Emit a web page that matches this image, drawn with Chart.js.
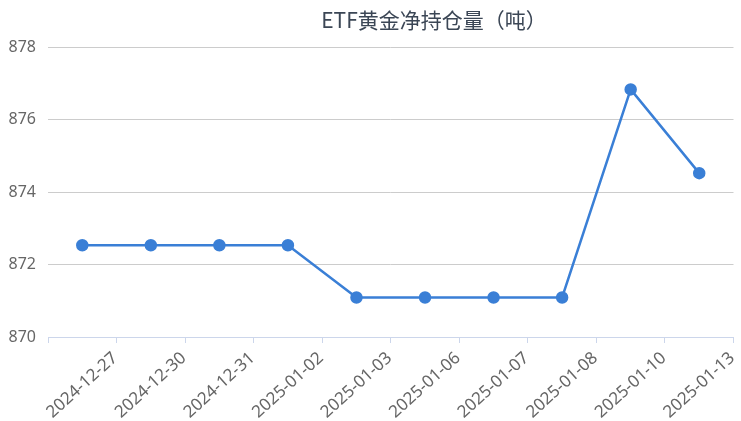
<!DOCTYPE html>
<html>
<head>
<meta charset="utf-8">
<script src="https://cdn.jsdelivr.net/npm/chart.js@4/dist/chart.umd.min.js"></script>
<style>
  html, body { margin: 0; padding: 0; background: #fff; }
  #wrap { width: 741px; height: 421px; position: relative; }
</style>
</head>
<body>
<div id="wrap"><canvas id="etf-chart"></canvas></div>
<script>
// datos
const TITLE = "ETF黄金净持仓量（吨）";
const dates = ["2024-12-27", "2024-12-30", "2024-12-31", "2025-01-02", "2025-01-03",
               "2025-01-06", "2025-01-07", "2025-01-08", "2025-01-10", "2025-01-13"];
const holdings = [872.53, 872.53, 872.53, 872.53, 871.09, 871.09, 871.09, 871.09, 876.83, 874.52];
const yTicks = [870, 872, 874, 876, 878];

// título dibujado a mano para poder moverlo a la derecha como en el original
const titlePlugin = {
    id: "offsetTitle",
    afterDraw(chart) {
        const ctx = chart.ctx;
        ctx.save();
        ctx.font = "21px 'Noto Sans CJK SC'";
        ctx.fillStyle = "#3b4655";
        ctx.textAlign = "center";
        ctx.textBaseline = "middle";
        ctx.fillText(TITLE, 434, 20);
        ctx.restore();
    }
};

function renderChart() {
    const ctx = document.getElementById("etf-chart").getContext("2d");
    new Chart(ctx, {
        type: "line",
        data: {
            labels: dates,
            datasets: [{
                data: holdings,
                borderColor: "#3a7fd6",
                backgroundColor: "#3a7fd6",
                borderWidth: 2.5,
                pointRadius: 5,
                pointHoverRadius: 5,
                tension: 0
            }]
        },
        options: {
            responsive: true,
            maintainAspectRatio: false,
            animation: false,
            layout: { padding: { top: 47, right: 7, left: 0, bottom: 0 } },
            plugins: {
                legend: { display: false },
                title: { display: false },
                tooltip: { enabled: false }
            },
            scales: {
                x: {
                    offset: true,
                    afterFit(axis) { axis.height = 84; },
                    grid: {
                        offset: true,
                        drawOnChartArea: false,
                        drawTicks: true,
                        tickLength: 6,
                        color: "#ccd6eb"
                    },
                    border: { color: "#ccd6eb", width: 1 },
                    ticks: {
                        minRotation: 42,
                        maxRotation: 42,
                        labelOffset: 33,
                        padding: 5,
                        color: "#666",
                        font: { family: "'Noto Sans'", size: 17 }
                    }
                },
                y: {
                    min: yTicks[0],
                    max: yTicks[yTicks.length - 1],
                    afterFit(axis) { axis.width = 48; },
                    afterBuildTicks(axis) {
                        axis.ticks = yTicks.map(v => ({ value: v }));
                    },
                    grid: { color: "#cccccc", drawTicks: false },
                    border: { display: false },
                    ticks: {
                        padding: 12,
                        color: "#666",
                        font: { family: "'Noto Sans'", size: 16 }
                    }
                }
            }
        },
        plugins: [titlePlugin]
    });
}

document.addEventListener("DOMContentLoaded", renderChart);
</script>
</body>
</html>
